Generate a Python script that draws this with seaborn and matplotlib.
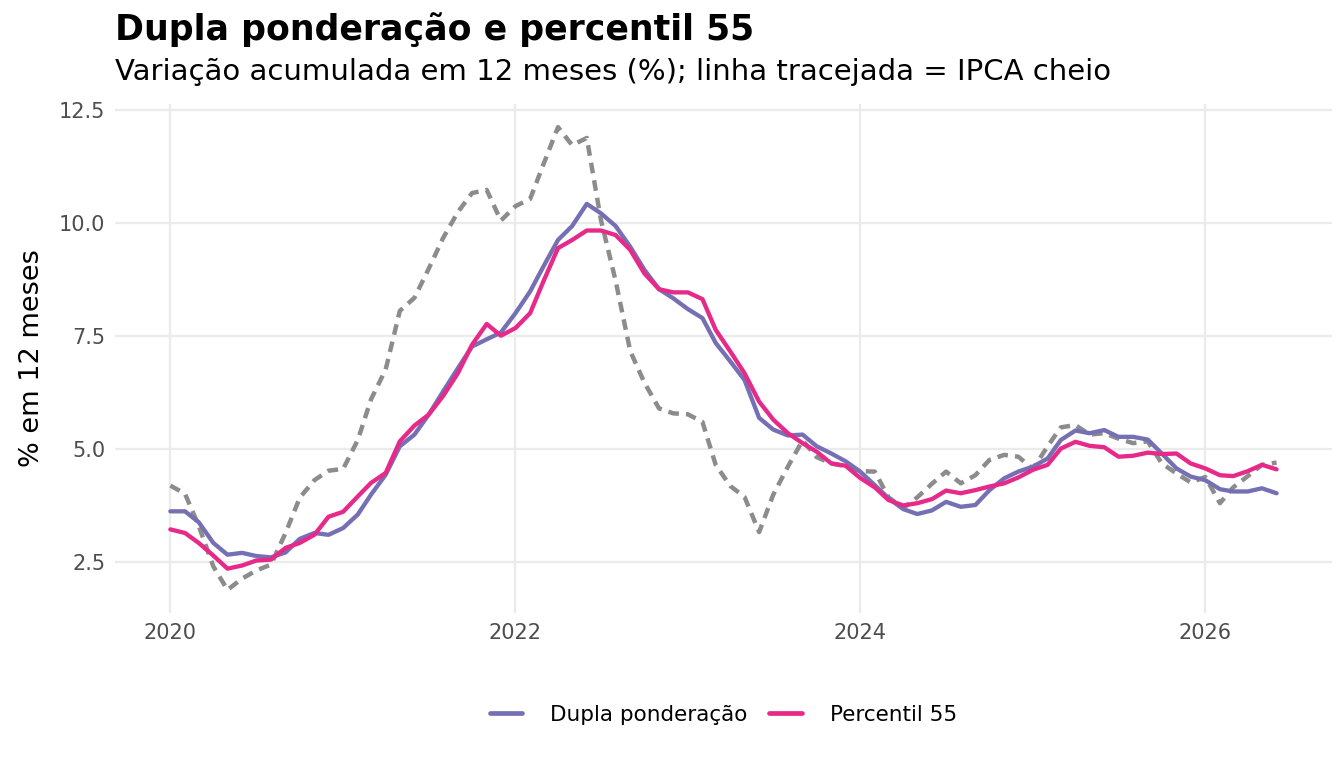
import numpy as np
import pandas as pd
import matplotlib
matplotlib.use("Agg")
import matplotlib.pyplot as plt
import matplotlib.dates as mdates
import seaborn as sns

# monthly series, Jan/2020 .. Jun/2026
months = pd.date_range("2020-01-01", "2026-06-01", freq="MS")

dupla = [
    3.62, 3.62, 3.38, 2.92, 2.66, 2.70, 2.63, 2.60, 2.71, 3.01, 3.14, 3.10,
    3.25, 3.55, 3.99, 4.43, 5.06, 5.32, 5.76, 6.28, 6.79, 7.27, 7.43, 7.58,
    8.01, 8.49, 9.04, 9.63, 9.94, 10.43, 10.22, 9.94, 9.48, 8.97, 8.54, 8.34,
    8.10, 7.90, 7.35, 6.94, 6.53, 5.69, 5.43, 5.30, 5.32, 5.06, 4.90, 4.73,
    4.50, 4.20, 3.91, 3.67, 3.56, 3.64, 3.83, 3.72, 3.76, 4.09, 4.35, 4.50,
    4.61, 4.79, 5.20, 5.41, 5.35, 5.42, 5.27, 5.27, 5.21, 4.90, 4.57, 4.39,
    4.31, 4.11, 4.06, 4.06, 4.13, 4.02,
]

p55 = [
    3.22, 3.14, 2.92, 2.64, 2.35, 2.42, 2.53, 2.55, 2.81, 2.92, 3.10, 3.50,
    3.61, 3.95, 4.25, 4.47, 5.17, 5.52, 5.76, 6.18, 6.68, 7.31, 7.77, 7.51,
    7.68, 8.01, 8.71, 9.45, 9.63, 9.84, 9.84, 9.74, 9.41, 8.89, 8.54, 8.47,
    8.47, 8.32, 7.64, 7.16, 6.68, 6.05, 5.65, 5.35, 5.13, 4.94, 4.68, 4.63,
    4.36, 4.15, 3.87, 3.75, 3.80, 3.89, 4.08, 4.02, 4.09, 4.17, 4.24, 4.37,
    4.54, 4.65, 5.01, 5.16, 5.07, 5.04, 4.83, 4.85, 4.92, 4.89, 4.90, 4.68,
    4.57, 4.42, 4.40, 4.51, 4.65, 4.55,
]

ipca = [
    4.19, 4.01, 3.30, 2.40, 1.88, 2.13, 2.31, 2.44, 3.14, 3.92, 4.31, 4.52,
    4.56, 5.20, 6.10, 6.76, 8.06, 8.35, 8.99, 9.68, 10.25, 10.67, 10.74, 10.06,
    10.38, 10.54, 11.30, 12.13, 11.73, 11.89, 10.07, 8.73, 7.17, 6.47, 5.90, 5.79,
    5.77, 5.60, 4.65, 4.18, 3.94, 3.16, 3.99, 4.61, 5.19, 4.82, 4.68, 4.62,
    4.51, 4.50, 3.93, 3.69, 3.93, 4.23, 4.50, 4.24, 4.42, 4.76, 4.87, 4.83,
    4.56, 5.06, 5.48, 5.53, 5.32, 5.35, 5.23, 5.13, 5.17, 4.68, 4.46, 4.26,
    4.38, 3.80, 4.15, 4.40, 4.65, 4.70,
]

series_names = ["Dupla ponderação", "Percentil 55"]
palette = {"Dupla ponderação": "#7570b3", "Percentil 55": "#e7298a"}

df = pd.DataFrame({
    "data": list(months) * 2,
    "valor": dupla + p55,
    "serie": [series_names[0]] * len(months) + [series_names[1]] * len(months),
})
df_ipca = pd.DataFrame({"data": months, "valor": ipca})

sns.set_style("whitegrid")
plt.rcParams["font.family"] = ["DejaVu Sans"]
plt.rcParams["text.color"] = "black"

fig = plt.figure(figsize=(13.44, 7.68), dpi=100)
ax = fig.add_axes([0.0856, 0.2018, 0.9054, 0.6628])

sns.lineplot(data=df_ipca, x="data", y="valor", ax=ax, color="#8c8c8c",
             linewidth=3.2, linestyle=(0, (2.4, 1.6)), legend=False)
sns.lineplot(data=df, x="data", y="valor", hue="serie", hue_order=series_names,
             palette=palette, ax=ax, linewidth=3.1)

# ggplot-like 5% expansion
span = months[-1] - months[0]
ax.set_xlim(months[0] - span * 0.05, months[-1] + span * 0.05)
ymin, ymax = min(ipca + dupla + p55), max(ipca + dupla + p55)
pad = (ymax - ymin) * 0.05
ax.set_ylim(ymin - pad, ymax + pad)

ax.xaxis.set_major_locator(mdates.YearLocator(2))
ax.xaxis.set_major_formatter(mdates.DateFormatter("%Y"))
ax.set_yticks([2.5, 5.0, 7.5, 10.0, 12.5])
ax.set_yticklabels(["2.5", "5.0", "7.5", "10.0", "12.5"])

ax.grid(True, color="#ebebeb", linewidth=1.6)
for s in ax.spines.values():
    s.set_visible(False)
ax.tick_params(axis="both", length=0, labelsize=15, labelcolor="#4d4d4d", pad=7)
ax.set_xlabel("")
ax.set_ylabel("% em 12 meses", fontsize=19.5, labelpad=10, color="black")

leg = ax.legend(loc="center", bbox_to_anchor=(0.5, -0.2), ncol=2,
                frameon=False, fontsize=15.5, handlelength=1.5, handletextpad=1.3,
                columnspacing=1.0, title=None)
for text in leg.get_texts():
    text.set_color("black")
for line in leg.get_lines():
    line.set_linewidth(3.4)

fig.text(0.0856, 0.984, "Dupla ponderação e percentil 55", fontsize=25,
         fontweight="bold", ha="left", va="top", color="black")
fig.text(0.0856, 0.925, "Variação acumulada em 12 meses (%); linha tracejada = IPCA cheio",
         fontsize=21, ha="left", va="top", color="black")

fig.savefig("out.png", dpi=100, facecolor="white")
